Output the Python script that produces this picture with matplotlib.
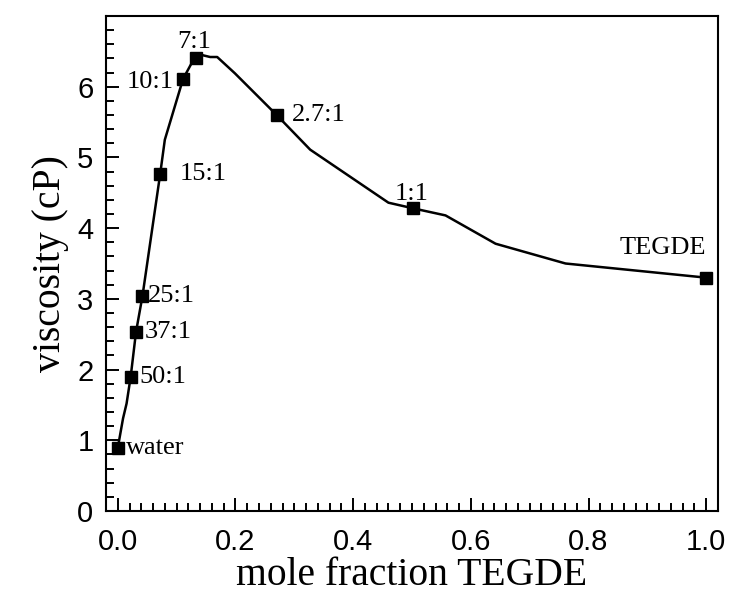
import matplotlib
matplotlib.use("Agg")
import matplotlib.pyplot as plt
from matplotlib.ticker import MultipleLocator

# measured mixtures (markers)
x_pts = [0.0, 0.022, 0.031, 0.042, 0.072, 0.111, 0.133, 0.270, 0.502, 1.0]
y_pts = [0.89, 1.90, 2.53, 3.04, 4.76, 6.11, 6.40, 5.60, 4.28, 3.30]
labels = ["water", "50:1", "37:1", "25:1", "15:1", "10:1", "7:1", "2.7:1", "1:1", "TEGDE"]

# curve through the data
x_line = [0.0, 0.009, 0.015, 0.022, 0.031, 0.042, 0.072, 0.080, 0.111, 0.124,
          0.133, 0.142, 0.157, 0.169, 0.199, 0.270, 0.327, 0.460, 0.502,
          0.557, 0.642, 0.761, 1.0]
y_line = [0.89, 1.31, 1.52, 1.90, 2.53, 3.04, 4.76, 5.25, 6.11, 6.31,
          6.40, 6.45, 6.42, 6.42, 6.19, 5.60, 5.11, 4.36, 4.28,
          4.18, 3.78, 3.50, 3.30]

# label offsets in points (dx, dy) and alignment
offsets = {
    "water": (6, 0, "left"),
    "50:1": (6, 0, "left"),
    "37:1": (6, 0, "left"),
    "25:1": (4, 0, "left"),
    "15:1": (14, 0, "left"),
    "10:1": (-7, -2, "right"),
    "7:1": (-1, 12, "center"),
    "2.7:1": (11, 0, "left"),
    "1:1": (-1, 10, "center"),
    "TEGDE": (0, 21, "right"),
}

fig = plt.figure(figsize=(7.37, 6.08), dpi=100)
ax = fig.add_axes([0.1438, 0.1595, 0.8304, 0.8142])

ax.plot(x_line, y_line, color="black", lw=1.8)
ax.plot(x_pts, y_pts, ls="none", marker="s", ms=8, color="black")

for x, y, t in zip(x_pts, y_pts, labels):
    dx, dy, ha = offsets[t]
    ax.annotate(t, (x, y), xytext=(dx, dy), textcoords="offset points",
                ha=ha, va="center", fontsize=19, family="Liberation Serif")

ax.set_xlim(-0.02, 1.02)
ax.set_ylim(0, 7)
ax.xaxis.set_major_locator(MultipleLocator(0.2))
ax.xaxis.set_minor_locator(MultipleLocator(0.02))
ax.yaxis.set_major_locator(MultipleLocator(1))
ax.yaxis.set_minor_locator(MultipleLocator(0.2))
ax.set_yticks(range(0, 7))
ax.set_xticks([0, 0.2, 0.4, 0.6, 0.8, 1.0])
ax.set_xticklabels(["0.0", "0.2", "0.4", "0.6", "0.8", "1.0"])

ax.tick_params(which="both", direction="in", top=False, right=False,
               labelsize=21, width=1.4)
ax.tick_params(which="major", length=9.5)
ax.tick_params(axis="x", which="major", pad=12)
ax.tick_params(axis="y", which="major", pad=9)
ax.tick_params(which="minor", length=5.5)
for lab in ax.get_xticklabels() + ax.get_yticklabels():
    lab.set_family("Liberation Sans")
for s in ax.spines.values():
    s.set_linewidth(1.5)

ax.set_xlabel("mole fraction TEGDE", family="Liberation Serif", fontsize=28.5, labelpad=1)
ax.set_ylabel("viscosity (cP)", family="Liberation Serif", fontsize=28.5, labelpad=6)

fig.savefig("out.png", dpi=100)
